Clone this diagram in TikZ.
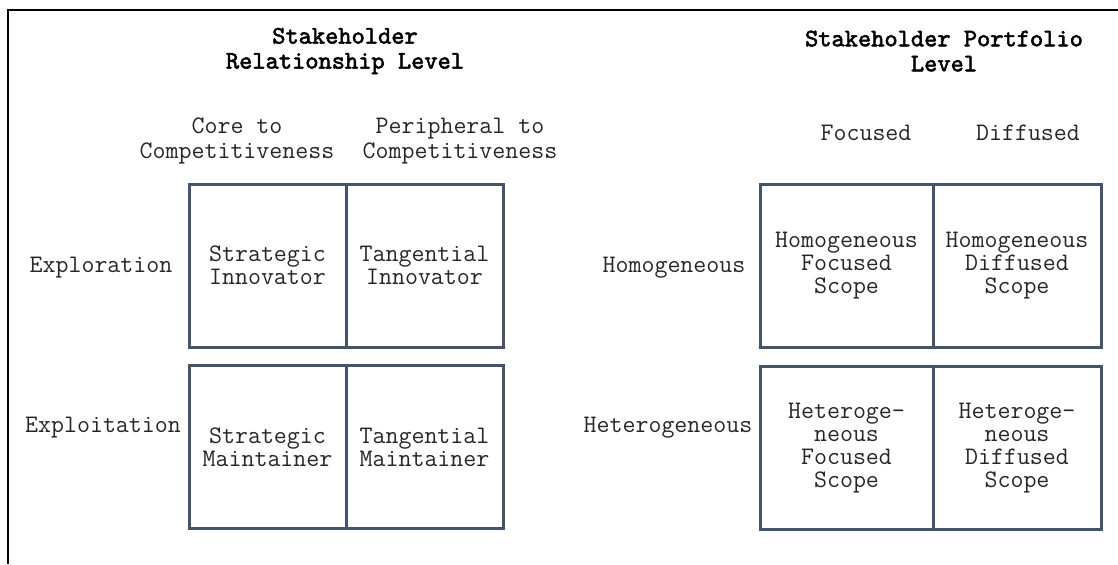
\documentclass[tikz,border=0pt]{standalone}
\usepackage{fontspec}
\newfontfamily\ttlfont{lmmono10-regular.otf}[FakeBold=2.2]
\definecolor{boxc}{HTML}{44546A}
\definecolor{txt}{HTML}{262626}
\begin{document}
\begin{tikzpicture}[x=0.5pt,y=-0.5pt,
  lab/.style={font=\ttfamily\fontsize{12.6}{12.5}\selectfont, text=txt, align=center, inner sep=0pt},
  ttl/.style={font=\ttlfont\bfseries\fontsize{12.6}{12.5}\selectfont, text=black, align=center, inner sep=0pt},
  cell/.style={draw=boxc, line width=1.5pt, align=center, inner sep=0pt,
    font=\ttfamily\fontsize{12.6}{11.6}\selectfont, text=txt, minimum height=81.5pt},
  lcell/.style={cell, minimum width=78.5pt},
  rcellA/.style={cell, minimum width=86.5pt},
  rcellB/.style={cell, minimum width=84pt}]
\useasboundingbox (0,0) rectangle (1118,564);
\coordinate (b1) at (8,564);
\coordinate (b2) at (8,10);
\coordinate (b3) at (1118,10);
\draw[line width=1pt] (b1) -- (b2) -- (b3);

% titles
\node[ttl] (t1) at (345,51) {Stakeholder\\Relationship Level};
\node[ttl] (t2) at (944,51) {Stakeholder Portfolio\\Level};

% column headers
\node[lab] (c1) at (237,141) {Core to\\Competitiveness};
\node[lab] (c2) at (460,141) {Peripheral to\\Competitiveness};
\node[lab] (c3) at (866,133) {Focused};
\node[lab] (c4) at (1028,133) {Diffused};

% row labels
\node[lab] (r1) at (101,268) {Exploration};
\node[lab] (r2) at (103,428) {Exploitation};
\node[lab] (r3) at (674,268) {Homogeneous};
\node[lab] (r4) at (668,428) {Heterogeneous};

% left matrix
\node[lcell] (si) at (267.5,265.5) {Strategic\\Innovator};
\node[lcell] (ti) at (424.5,265.5) {Tangential\\Innovator};
\node[lcell] (sm) at (267.5,447) {Strategic\\Maintainer};
\node[lcell] (tm) at (424.5,447) {Tangential\\Maintainer};

% right matrix
\node[rcellA] (hfs) at (846.5,265.5) {Homogeneous\\Focused\\Scope};
\node[rcellB] (hds) at (1017,265.5) {Homogeneous\\Diffused\\Scope};
\node[rcellA] (efs) at (846.5,448) {Heteroge-\\neous\\Focused\\Scope};
\node[rcellB] (eds) at (1017,448) {Heteroge-\\neous\\Diffused\\Scope};
\end{tikzpicture}
\end{document}
